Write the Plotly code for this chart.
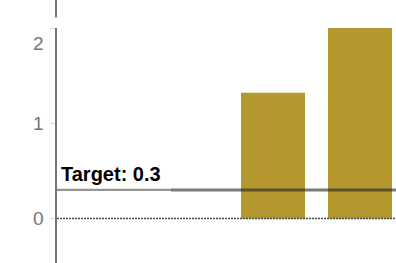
import plotly.graph_objects as go

categories = ["A", "B", "C", "D"]
values = [None, None, 1.32, 2.0]
target = 0.3
target_label = "Target: 0.3"
tick_values = [0, 1, 2]
tick_labels = ["0", "1", "2"]

BAR_COLOR = "#B4982E"
W, H = 396, 263
ML, MT = 57, 28

fig = go.Figure()
fig.add_trace(go.Bar(x=categories, y=values, marker_color=BAR_COLOR,
                     marker_line_width=0, width=0.736, hoverinfo="skip"))

shapes = [
    # dotted zero line
    dict(type="line", xref="paper", yref="y", x0=0, x1=1, y0=0, y1=0,
         line=dict(color="#4a4a4a", width=1.5, dash="2px,1px"), layer="above"),
    # target line: light part under label, darker part
    dict(type="line", xref="paper", yref="y", x0=0, x1=0.336, y0=target, y1=target,
         line=dict(color="rgba(41,41,41,0.5)", width=2.2), layer="above"),
    dict(type="line", xref="paper", yref="y", x0=0.336, x1=1, y0=target, y1=target,
         line=dict(color="rgba(41,41,41,0.62)", width=3), layer="above"),
    # top segment of axis line above the plot area
    dict(type="line", xref="paper", yref="paper", x0=-0.003, x1=-0.003,
         y0=1 + 10.5 / (H - MT), y1=1 + MT / (H - MT),
         line=dict(color="#767676", width=2)),
]

annotations = [
    dict(text=f"<b>{target_label}</b>", xref="paper", yref="y", x=0.006, y=target,
         xanchor="left", yanchor="bottom", yshift=3, showarrow=False,
         font=dict(family="Liberation Sans", size=20, color="#000000")),
]
for v, t in zip(tick_values, tick_labels):
    annotations.append(dict(text=t, xref="paper", yref="y", x=0, y=v,
                            xanchor="right", yanchor="middle", xshift=-11,
                            yshift=-15 if v == max(tick_values) else 0,
                            showarrow=False,
                            font=dict(family="Liberation Sans", size=19, color="#767676")))

fig.update_layout(
    width=W, height=H,
    margin=dict(l=ML, r=0, t=MT, b=0, pad=0),
    paper_bgcolor="white", plot_bgcolor="white",
    showlegend=False,
    shapes=shapes, annotations=annotations,
    xaxis=dict(type="category", categoryorder="array", categoryarray=categories,
               range=[-0.483, 3.414], showticklabels=False, showgrid=False,
               zeroline=False, showline=False, ticks=""),
    yaxis=dict(range=[-0.467, 2.0], tickvals=tick_values, showticklabels=False,
               showgrid=False, zeroline=False, showline=True, linecolor="#767676",
               linewidth=2, ticks="outside", ticklen=5, tickcolor="#d9d9d9",
               tickwidth=1),
)

fig.write_html("out.html", config={"displayModeBar": False},
               post_script="document.body.style.margin='0px';")
